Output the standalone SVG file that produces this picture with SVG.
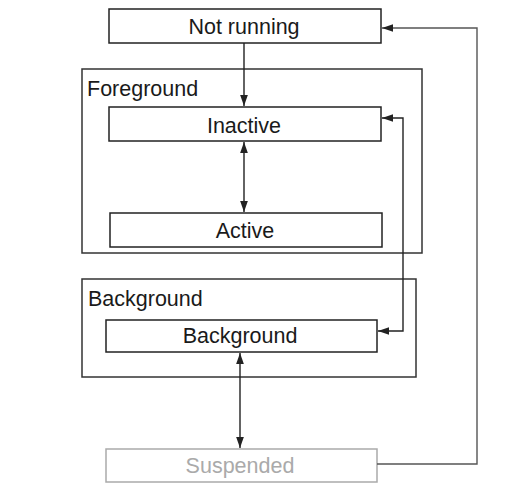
<svg xmlns="http://www.w3.org/2000/svg" width="530" height="500" viewBox="0 0 530 500">
<defs>
<style>
.box{fill:#fff;stroke:#222;stroke-width:1.5}
.grp{fill:none;stroke:#333;stroke-width:1.5}
.lbl{font-family:"Liberation Sans",Arial,sans-serif;font-size:21.5px;fill:#1a1a1a}
.c{text-anchor:middle}
.ln{fill:none;stroke:#222;stroke-width:1.4}
</style>
<marker id="ah" viewBox="0 0 10 10" refX="10" refY="5" markerWidth="11" markerHeight="11" markerUnits="userSpaceOnUse" orient="auto-start-reverse">
<path d="M0,1.5 L10,5 L0,8.5 z" fill="#222"/>
</marker>
</defs>
<rect width="530" height="500" fill="#fff"/>
<g id="foreground-group">
<rect class="grp" x="82" y="69" width="340" height="184"/>
<text class="lbl" x="87" y="96">Foreground</text>
</g>
<g id="background-group">
<rect class="grp" x="82" y="279" width="334" height="98"/>
<text class="lbl" x="88" y="306">Background</text>
</g>
<g id="not-running">
<rect class="box" x="109" y="9" width="272" height="34"/>
<text class="lbl c" x="244" y="34">Not running</text>
</g>
<g id="inactive">
<rect class="box" x="109" y="107" width="272" height="34"/>
<text class="lbl c" x="244" y="133">Inactive</text>
</g>
<g id="active">
<rect class="box" x="110" y="213" width="272" height="34"/>
<text class="lbl c" x="245" y="238">Active</text>
</g>
<g id="background">
<rect class="box" x="106" y="320" width="271" height="32"/>
<text class="lbl c" x="240" y="343">Background</text>
</g>
<g id="suspended">
<rect x="106" y="449" width="271" height="33" fill="#fff" stroke="#aaa" stroke-width="1.5"/>
<text class="lbl c" x="240" y="473" style="fill:#aaa">Suspended</text>
</g>
<g id="connectors">
<line class="ln" x1="244" y1="43" x2="244" y2="106" marker-end="url(#ah)"/>
<line class="ln" x1="244" y1="142" x2="244" y2="212" marker-start="url(#ah)" marker-end="url(#ah)"/>
<line class="ln" x1="240" y1="353" x2="240" y2="448" marker-start="url(#ah)" marker-end="url(#ah)"/>
<polyline class="ln" points="382,118 403,118 403,331 378,331" marker-start="url(#ah)" marker-end="url(#ah)"/>
<polyline points="377,464 477,464 477,28 382,28" fill="none" stroke="#555" stroke-width="1.4" marker-end="url(#ah)"/>
</g>
</svg>
